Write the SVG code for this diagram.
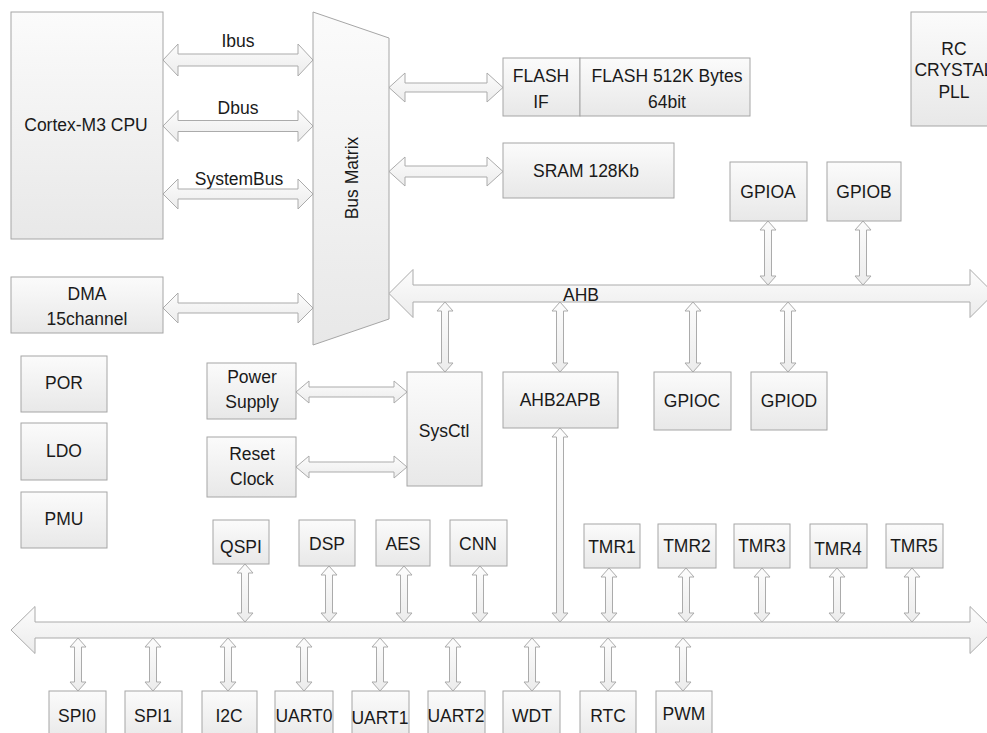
<svg xmlns="http://www.w3.org/2000/svg" width="987" height="733" viewBox="0 0 987 733">
<defs>
<linearGradient id="gb" x1="0" y1="0" x2="0" y2="1"><stop offset="0" stop-color="#fbfbfb"/><stop offset="1" stop-color="#e8e8e8"/></linearGradient>
<linearGradient id="ga" x1="0" y1="0" x2="0" y2="1"><stop offset="0" stop-color="#fcfcfc"/><stop offset="1" stop-color="#ececec"/></linearGradient>
</defs>
<style>
.b{fill:url(#gb);stroke:#a6a6a6;stroke-width:1}
.a{fill:url(#ga);stroke:#ababab;stroke-width:1;stroke-linejoin:miter}
text{font-family:"Liberation Sans",Arial,sans-serif;font-size:17.5px;fill:#1a1a1a;text-anchor:middle}
</style>
<rect width="987" height="733" fill="#ffffff"/>
<g id="connectors">
<polygon class="a" points="163,60 178,44 178,54 298,54 298,44 313,60 298,76 298,66 178,66 178,76"/>
<polygon class="a" points="163,126 178,110.5 178,120.5 298,120.5 298,110.5 313,126 298,141.5 298,131.5 178,131.5 178,141.5"/>
<polygon class="a" points="163,194 178,179 178,189 298,189 298,179 313,194 298,209 298,199 178,199 178,209"/>
<polygon class="a" points="163,308 178,293 178,303 298,303 298,293 313,308 298,323 298,313 178,313 178,323"/>
<polygon class="a" points="389,87.5 405,73 405,83 487,83 487,73 503,87.5 487,102 487,92 405,92 405,102"/>
<polygon class="a" points="389,171.5 405,157 405,166 487,166 487,157 503,171.5 487,186 487,177 405,177 405,186"/>
<polygon class="a" points="296,392 309,381 309,387 394,387 394,381 407,392 394,403 394,397 309,397 309,403"/>
<polygon class="a" points="296,467 309,456 309,462 394,462 394,456 407,467 394,478 394,472 309,472 309,478"/>
<polygon class="a" points="389,293.5 413,269.5 413,285 970,285 970,269.5 994,293.5 970,317.5 970,302 413,302 413,317.5"/>
<polygon class="a" points="11,630 35,606.5 35,622 970,622 970,606.5 994,630 970,653.5 970,638 35,638 35,653.5"/>
<polygon class="a" points="768,221 776,230 771.5,230 771.5,276 776,276 768,285 760,276 764.5,276 764.5,230 760,230"/>
<polygon class="a" points="863,221 871,230 866.5,230 866.5,276 871,276 863,285 855,276 859.5,276 859.5,230 855,230"/>
<polygon class="a" points="445,302 453,311 448.5,311 448.5,363 453,363 445,372 437,363 441.5,363 441.5,311 437,311"/>
<polygon class="a" points="560,302 568,311 563.5,311 563.5,363 568,363 560,372 552,363 556.5,363 556.5,311 552,311"/>
<polygon class="a" points="693,302 701,311 696.5,311 696.5,363 701,363 693,372 685,363 689.5,363 689.5,311 685,311"/>
<polygon class="a" points="788,302 796,311 791.5,311 791.5,363 796,363 788,372 780,363 784.5,363 784.5,311 780,311"/>
<polygon class="a" points="560,428 568,437 563.5,437 563.5,613 568,613 560,622 552,613 556.5,613 556.5,437 552,437"/>
<polygon class="a" points="245,564 253,573 248.5,573 248.5,613 253,613 245,622 237,613 241.5,613 241.5,573 237,573"/>
<polygon class="a" points="329,566 337,575 332.5,575 332.5,613 337,613 329,622 321,613 325.5,613 325.5,575 321,575"/>
<polygon class="a" points="404,566 412,575 407.5,575 407.5,613 412,613 404,622 396,613 400.5,613 400.5,575 396,575"/>
<polygon class="a" points="480,566 488,575 483.5,575 483.5,613 488,613 480,622 472,613 476.5,613 476.5,575 472,575"/>
<polygon class="a" points="609,568 617,577 612.5,577 612.5,613 617,613 609,622 601,613 605.5,613 605.5,577 601,577"/>
<polygon class="a" points="686,568 694,577 689.5,577 689.5,613 694,613 686,622 678,613 682.5,613 682.5,577 678,577"/>
<polygon class="a" points="762,568 770,577 765.5,577 765.5,613 770,613 762,622 754,613 758.5,613 758.5,577 754,577"/>
<polygon class="a" points="837,568 845,577 840.5,577 840.5,613 845,613 837,622 829,613 833.5,613 833.5,577 829,577"/>
<polygon class="a" points="912,568 920,577 915.5,577 915.5,613 920,613 912,622 904,613 908.5,613 908.5,577 904,577"/>
<polygon class="a" points="78,638 86,647 81.5,647 81.5,682 86,682 78,691 70,682 74.5,682 74.5,647 70,647"/>
<polygon class="a" points="153,638 161,647 156.5,647 156.5,682 161,682 153,691 145,682 149.5,682 149.5,647 145,647"/>
<polygon class="a" points="228,638 236,647 231.5,647 231.5,682 236,682 228,691 220,682 224.5,682 224.5,647 220,647"/>
<polygon class="a" points="304,638 312,647 307.5,647 307.5,682 312,682 304,691 296,682 300.5,682 300.5,647 296,647"/>
<polygon class="a" points="380,638 388,647 383.5,647 383.5,682 388,682 380,691 372,682 376.5,682 376.5,647 372,647"/>
<polygon class="a" points="453,638 461,647 456.5,647 456.5,682 461,682 453,691 445,682 449.5,682 449.5,647 445,647"/>
<polygon class="a" points="532,638 540,647 535.5,647 535.5,682 540,682 532,691 524,682 528.5,682 528.5,647 524,647"/>
<polygon class="a" points="608,638 616,647 611.5,647 611.5,682 616,682 608,691 600,682 604.5,682 604.5,647 600,647"/>
<polygon class="a" points="683,638 691,647 686.5,647 686.5,682 691,682 683,691 675,682 679.5,682 679.5,647 675,647"/>
<text x="238" y="47">Ibus</text>
<text x="238" y="114">Dbus</text>
<text x="239" y="185">SystemBus</text>
<text x="581" y="301">AHB</text>
</g>
<g id="cpu"><rect class="b" x="11" y="12" width="152" height="227"/><text x="86" y="131">Cortex-M3 CPU</text></g>
<g id="busmatrix"><polygon class="b" points="313,12 389,38 389,319 313,345"/><text transform="translate(358,178) rotate(-90)">Bus Matrix</text></g>
<g id="flashif"><rect class="b" x="503" y="58" width="77" height="58"/><text x="541" y="82">FLASH</text><text x="541" y="108">IF</text></g>
<g id="flash"><rect class="b" x="580" y="58" width="170" height="58"/><text x="667" y="82">FLASH 512K Bytes</text><text x="667" y="108">64bit</text></g>
<g id="sram"><rect class="b" x="503" y="143" width="171" height="55"/><text x="586" y="177">SRAM 128Kb</text></g>
<g id="rc"><rect class="b" x="911" y="12" width="90" height="114"/><text x="954" y="55">RC</text><text x="954" y="76">CRYSTAL</text><text x="954" y="98">PLL</text></g>
<g id="gpioa"><rect class="b" x="730" y="162" width="77" height="59"/><text x="768" y="198">GPIOA</text></g>
<g id="gpiob"><rect class="b" x="827" y="162" width="74" height="59"/><text x="864" y="198">GPIOB</text></g>
<g id="dma"><rect class="b" x="11" y="277" width="152" height="56"/><text x="87" y="300">DMA</text><text x="87" y="325">15channel</text></g>
<g id="por"><rect class="b" x="21" y="356" width="86" height="56"/><text x="64" y="389">POR</text></g>
<g id="ldo"><rect class="b" x="21" y="423" width="86" height="57"/><text x="64" y="457">LDO</text></g>
<g id="pmu"><rect class="b" x="21" y="492" width="86" height="56"/><text x="64" y="525">PMU</text></g>
<g id="power"><rect class="b" x="207" y="363" width="89" height="56"/><text x="252" y="383">Power</text><text x="252" y="408">Supply</text></g>
<g id="reset"><rect class="b" x="207" y="437" width="89" height="60"/><text x="252" y="460">Reset</text><text x="252" y="485">Clock</text></g>
<g id="sysctl"><rect class="b" x="407" y="372" width="75" height="114"/><text x="444" y="437">SysCtl</text></g>
<g id="ahb2apb"><rect class="b" x="503" y="372" width="115" height="56"/><text x="560" y="406">AHB2APB</text></g>
<g id="gpioc"><rect class="b" x="654" y="372" width="77" height="58"/><text x="692" y="407">GPIOC</text></g>
<g id="gpiod"><rect class="b" x="751" y="372" width="76" height="58"/><text x="789" y="407">GPIOD</text></g>
<g id="qspi"><rect class="b" x="213" y="520" width="56" height="44"/><text x="241" y="553">QSPI</text></g>
<g id="dsp"><rect class="b" x="299" y="520" width="56" height="46"/><text x="327" y="550">DSP</text></g>
<g id="aes"><rect class="b" x="376" y="520" width="54" height="46"/><text x="403" y="550">AES</text></g>
<g id="cnn"><rect class="b" x="450" y="520" width="57" height="46"/><text x="478" y="550">CNN</text></g>
<g id="tmr1"><rect class="b" x="584" y="524" width="56" height="44"/><text x="612" y="553">TMR1</text></g>
<g id="tmr2"><rect class="b" x="658" y="524" width="58" height="44"/><text x="687" y="552">TMR2</text></g>
<g id="tmr3"><rect class="b" x="734" y="524" width="56" height="44"/><text x="762" y="552">TMR3</text></g>
<g id="tmr4"><rect class="b" x="810" y="524" width="57" height="44"/><text x="838" y="555">TMR4</text></g>
<g id="tmr5"><rect class="b" x="886" y="524" width="57" height="44"/><text x="914" y="552">TMR5</text></g>
<g id="spi0"><rect class="b" x="49" y="691" width="57" height="50"/><text x="77" y="722">SPI0</text></g>
<g id="spi1"><rect class="b" x="125" y="691" width="57" height="50"/><text x="153" y="722">SPI1</text></g>
<g id="i2c"><rect class="b" x="202" y="691" width="55" height="50"/><text x="229" y="722">I2C</text></g>
<g id="uart0"><rect class="b" x="275" y="691" width="58" height="50"/><text x="304" y="722">UART0</text></g>
<g id="uart1"><rect class="b" x="352" y="691" width="57" height="50"/><text x="380" y="724">UART1</text></g>
<g id="uart2"><rect class="b" x="428" y="691" width="57" height="50"/><text x="456" y="722">UART2</text></g>
<g id="wdt"><rect class="b" x="503" y="691" width="57" height="50"/><text x="532" y="722">WDT</text></g>
<g id="rtc"><rect class="b" x="580" y="691" width="56" height="50"/><text x="608" y="722">RTC</text></g>
<g id="pwm"><rect class="b" x="656" y="691" width="56" height="50"/><text x="684" y="720">PWM</text></g>
</svg>
